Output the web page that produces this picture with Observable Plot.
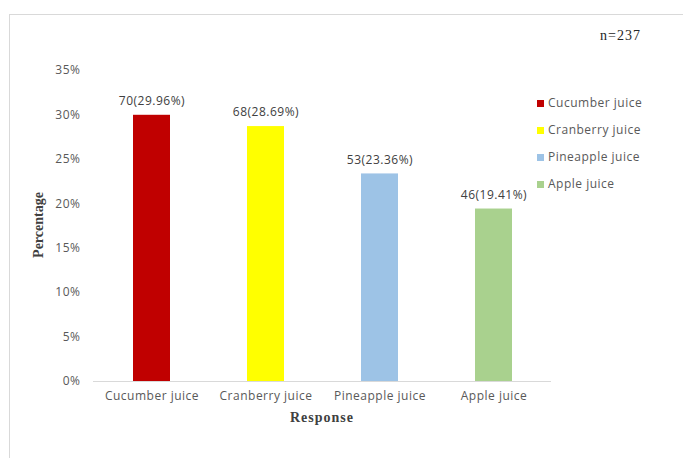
<!DOCTYPE html>
<html>
<head>
<meta charset="utf-8">
<script src="https://cdn.jsdelivr.net/npm/d3@7"></script>
<script src="https://cdn.jsdelivr.net/npm/@observablehq/plot@0.6"></script>
<style>
  html, body { margin: 0; padding: 0; background: #fff; }
  #wrap { position: relative; width: 683px; height: 458px; overflow: hidden; font-family: "Open Sans", sans-serif; }
  #frame { position: absolute; left: 9px; top: 14px; right: -2px; bottom: -2px; border-left: 1px solid #d9d9d9; border-top: 1px solid #d9d9d9; pointer-events: none; }
  #legend { position: absolute; left: 537px; top: 96px; font-size: 12px; letter-spacing: 0.5px; color: #595959; }
  #legend .item { height: 27px; line-height: 14px; display: flex; align-items: flex-start; white-space: nowrap; }
  #legend .sw { width: 7px; height: 7px; margin-top: 3.5px; margin-right: 4px; }
  #n { position: absolute; left: 641px; top: 36px; transform: translate(-100%, -50%); font-family: "Liberation Serif", serif; font-size: 14px; letter-spacing: 1px; color: #262626; white-space: nowrap; }
  #ylab { position: absolute; left: 39px; top: 225px; transform: translate(-50%, -50%) rotate(-90deg); font-family: "Liberation Serif", serif; font-weight: bold; font-size: 14px; color: #404040; white-space: nowrap; }
  #xlab { position: absolute; left: 322px; top: 418px; transform: translate(-50%, -50%); font-family: "Liberation Serif", serif; font-weight: bold; font-size: 14px; letter-spacing: 1px; color: #404040; white-space: nowrap; }
</style>
</head>
<body>
<div id="wrap">
  <div id="chart"></div>
  <div id="frame"></div>
  <div id="n">n=237</div>
  <div id="ylab">Percentage</div>
  <div id="xlab">Response</div>
  <div id="legend"></div>
</div>
<script>
const categories = ["Cucumber juice", "Cranberry juice", "Pineapple juice", "Apple juice"];
const counts = [70, 68, 53, 46];
const percents = [29.96, 28.69, 23.36, 19.41];
const colors = ["#C00000", "#FFFF00", "#9DC3E6", "#A9D18E"];
const yTicks = [0, 0.05, 0.10, 0.15, 0.20, 0.25, 0.30, 0.35];

const data = categories.map((c, i) => ({
  category: c,
  count: counts[i],
  pct: percents[i] / 100,
  label: `${counts[i]}(${percents[i].toFixed(2)}%)`
}));

const chart = Plot.plot({
  width: 683,
  height: 458,
  marginLeft: 93,
  marginRight: 132,
  marginTop: 70,
  marginBottom: 77,
  style: { fontFamily: "Open Sans, sans-serif", fontSize: "12px", letterSpacing: "0.5px", color: "#595959", background: "transparent" },
  x: { domain: categories, paddingInner: 0.676, paddingOuter: 0.338, align: 0.5, label: null },
  y: { domain: [0, 0.35], label: null },
  color: { domain: categories, range: colors },
  marks: [
    Plot.axisY({ ticks: yTicks, tickFormat: d3.format(".0%"), tickSize: 0, tickPadding: 13, label: null, fill: "#595959" }),
    Plot.axisX({ tickSize: 0, tickPadding: 10, label: null, fill: "#595959" }),
    Plot.barY(data, { x: "category", y: "pct", fill: "category" }),
    Plot.ruleY([0], { stroke: "#d9d9d9", strokeWidth: 1 }),
    Plot.text(data, { x: "category", y: "pct", text: "label", dy: -14, fill: "#404040", fontSize: 12 })
  ]
});
document.getElementById("chart").appendChild(chart);

const legend = document.getElementById("legend");
categories.forEach((c, i) => {
  const item = document.createElement("div");
  item.className = "item";
  const sw = document.createElement("span");
  sw.className = "sw";
  sw.style.background = colors[i];
  const t = document.createElement("span");
  t.textContent = c;
  item.appendChild(sw);
  item.appendChild(t);
  legend.appendChild(item);
});
</script>
</body>
</html>
